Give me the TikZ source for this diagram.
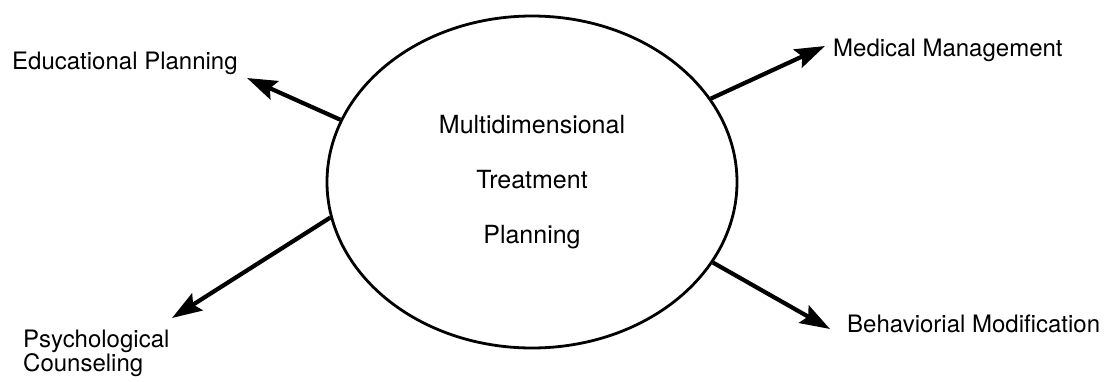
\documentclass[tikz,border=0pt]{standalone}
\usepackage{fontspec}
\setmainfont{TeX Gyre Heros}
\usetikzlibrary{arrows.meta,positioning,shapes.geometric}

\begin{document}
\begin{tikzpicture}[
        x=1pt, y=1pt,
        hub/.style={draw, ellipse, line width=2.8pt, minimum width=410pt,
          minimum height=332pt, inner sep=0pt, align=center,
          font=\fontsize{25}{55}\selectfont},
        lbl/.style={inner sep=0pt, anchor=base west, align=left,
          font=\fontsize{24}{24}\selectfont},
        arr/.style={-{Stealth[length=30pt, width=20pt, inset=5pt]}, line width=4.2pt}
      ]
        \useasboundingbox (0,0) rectangle (1119,381);
        \node[hub] (plan) at (532,199) {Multidimensional\\Treatment\\Planning};
        \node[lbl] (edu) at (12,311) {Educational Planning};
        \node[lbl] (med) at (833,324) {Medical Management};
        \node[lbl, anchor=north west] (psy) at (23,51) {Psychological\\Counseling};
        \node[lbl] (beh) at (847,49) {Behaviorial Modification};
        \coordinate (eduTip) at (247,303);
        \coordinate (medTip) at (825,335);
        \coordinate (psyTip) at (172,63);
        \coordinate (behTip) at (830,52);
        \draw[arr] (plan.162.6) -- (eduTip);
        \draw[arr] (plan.25.9) -- (medTip);
        \draw[arr] (plan.190) -- (psyTip);
        \draw[arr] (plan.-24.1) -- (behTip);
      \end{tikzpicture}
\end{document}
